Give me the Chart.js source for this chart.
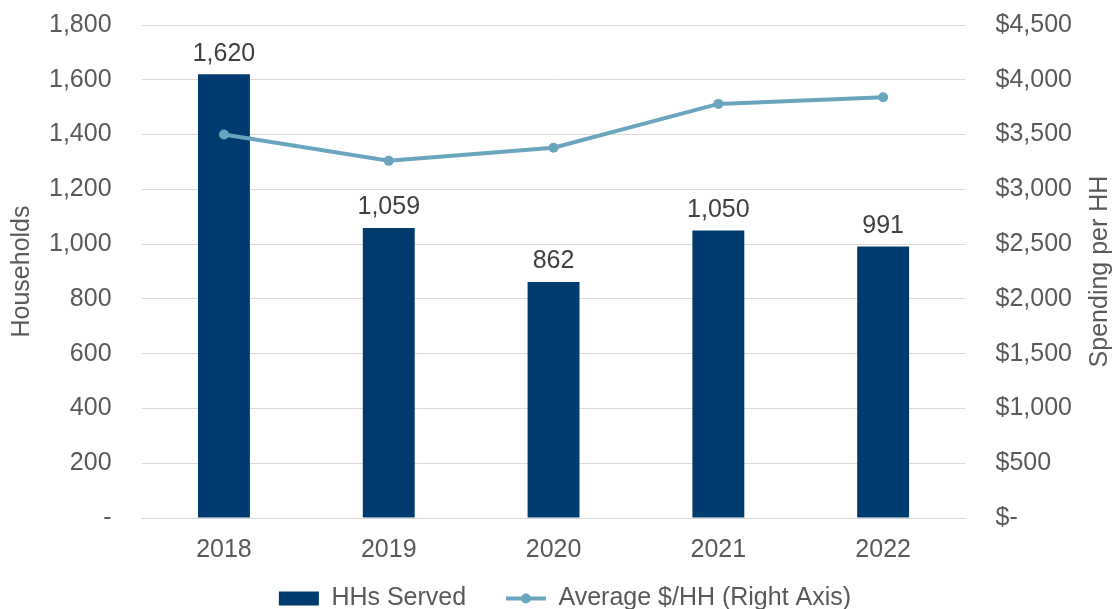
<!DOCTYPE html>
<html>
<head>
<meta charset="utf-8">
<script src="https://cdn.jsdelivr.net/npm/chart.js@4"></script>
<style>
  html, body { margin: 0; padding: 0; background: #fff; }
  #wrap { width: 1117px; height: 609px; }
</style>
</head>
<body>
<div id="wrap"><canvas id="hhChart"></canvas></div>
<script>
const years = ["2018", "2019", "2020", "2021", "2022"];
const hhServed = [1620, 1059, 862, 1050, 991];
const avgPerHH = [3500, 3260, 3380, 3780, 3840];
const leftTicks = ["-", "200", "400", "600", "800", "1,000", "1,200", "1,400", "1,600", "1,800"];
const rightTicks = ["$-", "$500", "$1,000", "$1,500", "$2,000", "$2,500", "$3,000", "$3,500", "$4,000", "$4,500"];
const rightTitle = "Spending per HH";

const barColor = "#003b6f";
const lineColor = "#6aa5bf";
const textColor = "#595959";
const fontFamily = "'Liberation Sans', Arial, sans-serif";
const fontSize = 25;

Chart.defaults.font.family = fontFamily;
Chart.defaults.font.size = fontSize;
Chart.defaults.color = textColor;

// value labels above the bars
const barLabels = {
  id: "barLabels",
  afterDatasetsDraw(chart) {
    const ctx = chart.ctx;
    const meta = chart.getDatasetMeta(0);
    ctx.save();
    ctx.fillStyle = "#404040";
    ctx.font = fontSize + "px " + fontFamily;
    ctx.textAlign = "center";
    ctx.textBaseline = "bottom";
    meta.data.forEach((bar, i) => {
      ctx.fillText(hhServed[i].toLocaleString("en-US"), bar.x, bar.y - 8);
    });
    ctx.restore();
  }
};

// right axis title, reading bottom to top like the left one
const rightAxisTitle = {
  id: "rightAxisTitle",
  afterDraw(chart) {
    const s = chart.scales.y1;
    const ctx = chart.ctx;
    ctx.save();
    ctx.translate(1100, (s.top + s.bottom) / 2);
    ctx.rotate(-Math.PI / 2);
    ctx.fillStyle = textColor;
    ctx.font = fontSize + "px " + fontFamily;
    ctx.textAlign = "center";
    ctx.textBaseline = "middle";
    ctx.fillText(rightTitle, 0, 0);
    ctx.restore();
  }
};

// dot in the middle of the line legend item
const legendDot = {
  id: "legendDot",
  afterDraw(chart) {
    const lg = chart.legend;
    if (!lg || !lg.legendHitBoxes || lg.legendHitBoxes.length < 2) return;
    const box = lg.legendHitBoxes[1];
    const ctx = chart.ctx;
    ctx.save();
    ctx.fillStyle = lineColor;
    ctx.beginPath();
    ctx.arc(box.left + 20, box.top + box.height / 2, 5, 0, Math.PI * 2);
    ctx.fill();
    ctx.restore();
  }
};

const ctx = document.getElementById("hhChart").getContext("2d");
new Chart(ctx, {
  type: "bar",
  data: {
    labels: years,
    datasets: [
      {
        label: "HHs Served    ",
        data: hhServed,
        backgroundColor: barColor,
        yAxisID: "y",
        categoryPercentage: 1,
        barPercentage: 0.315,
        order: 2
      },
      {
        label: "Average $/HH (Right Axis)",
        type: "line",
        data: avgPerHH,
        yAxisID: "y1",
        borderColor: lineColor,
        backgroundColor: lineColor,
        borderWidth: 4,
        pointRadius: 5,
        pointBackgroundColor: lineColor,
        pointBorderWidth: 0,
        tension: 0,
        order: 1
      }
    ]
  },
  options: {
    responsive: true,
    maintainAspectRatio: false,
    animation: false,
    layout: { padding: { top: 0, left: 23, right: 10, bottom: -12 } },
    plugins: {
      legend: {
        position: "bottom",
        labels: {
          color: textColor,
          usePointStyle: true,
          pointStyleWidth: 40,
          boxHeight: 14,
          padding: 12,
          generateLabels(chart) {
            return chart.data.datasets.map((ds, i) => ({
              text: ds.label,
              fillStyle: ds.backgroundColor,
              strokeStyle: ds.type === "line" ? lineColor : barColor,
              lineWidth: ds.type === "line" ? 4 : 0,
              pointStyle: ds.type === "line" ? "line" : "rect",
              fontColor: textColor,
              datasetIndex: i
            }));
          }
        }
      },
      tooltip: { enabled: false }
    },
    scales: {
      x: {
        grid: { display: false },
        border: { color: "#d9d9d9" },
        ticks: { padding: 9 }
      },
      y: {
        position: "left",
        min: 0,
        max: 1800,
        ticks: {
          stepSize: 200,
          padding: 10,
          callback: (v, i) => leftTicks[i]
        },
        grid: { color: "#d9d9d9", drawTicks: true, tickLength: 20, tickColor: "transparent" },
        border: { display: false },
        title: {
          display: true,
          text: "Households",
          color: textColor,
          font: { lineHeight: 1 },
          padding: { top: -13, bottom: 4 }
        }
      },
      y1: {
        position: "right",
        min: 0,
        max: 4500,
        afterFit(scale) { scale.width += 25; },
        ticks: {
          stepSize: 500,
          padding: 10,
          callback: (v, i) => rightTicks[i]
        },
        grid: { drawOnChartArea: false, drawTicks: true, tickLength: 20, tickColor: "transparent" },
        border: { display: false }
      }
    }
  },
  plugins: [barLabels, rightAxisTitle, legendDot]
});
</script>
</body>
</html>
